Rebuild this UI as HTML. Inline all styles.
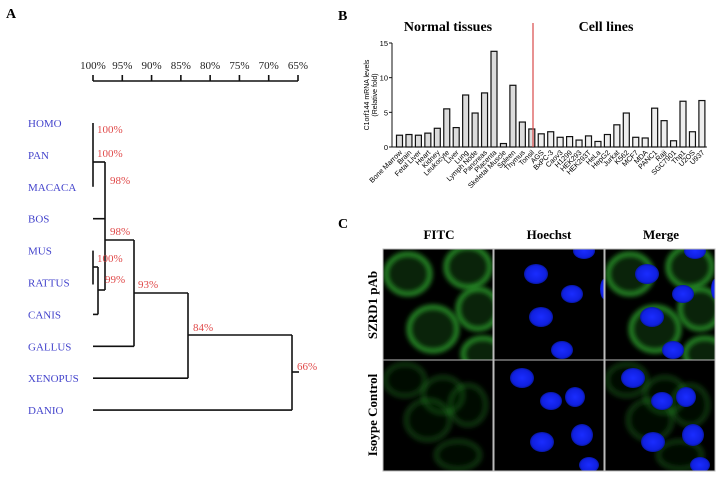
<!DOCTYPE html>
<html><head><meta charset="utf-8"><style>
html,body{margin:0;padding:0;background:#fff;}
svg{display:block;}
</style></head><body>
<svg width="723" height="479" viewBox="0 0 723 479" xmlns="http://www.w3.org/2000/svg">
<defs>
<radialGradient id="nuc" cx="50%" cy="50%" r="50%"><stop offset="0" stop-color="#1a2cff"/><stop offset="0.8" stop-color="#1020e0"/><stop offset="1" stop-color="#0818a0"/></radialGradient>
<filter id="blur" x="-20%" y="-20%" width="140%" height="140%"><feGaussianBlur stdDeviation="2.5"/></filter>
<clipPath id="c1"><rect x="0" y="0" width="110" height="111"/></clipPath>
</defs>

<!-- Panel A -->
<text x="6" y="18" font-family="Liberation Serif, serif" font-weight="bold" font-size="14">A</text>
<g id="scale" font-family="Liberation Serif, serif" font-size="11" fill="#222"></g>
<g id="dendro" stroke="#111" stroke-width="1.6" fill="none"></g>
<g id="leaves" font-family="Liberation Serif, serif" font-size="11" fill="#4444cc"></g>
<g id="nodes" font-family="Liberation Serif, serif" font-size="11" fill="#e04a4a"></g>

<!-- Panel B -->
<text x="338" y="20" font-family="Liberation Serif, serif" font-weight="bold" font-size="14">B</text>
<text x="448" y="31" text-anchor="middle" font-family="Liberation Serif, serif" font-weight="bold" font-size="14">Normal tissues</text>
<text x="606" y="31" text-anchor="middle" font-family="Liberation Serif, serif" font-weight="bold" font-size="14">Cell lines</text>
<g id="bars"></g>
<text transform="translate(369,95) rotate(-90)" text-anchor="middle" font-family="Liberation Sans, sans-serif" font-size="7">C1orf144 mRNA levels</text>
<text transform="translate(377,95) rotate(-90)" text-anchor="middle" font-family="Liberation Sans, sans-serif" font-size="7">(Relative fold)</text>
<line x1="533" y1="23" x2="533" y2="147" stroke="#d84a4a" stroke-width="1.2"/>

<!-- Panel C -->
<text x="338" y="228" font-family="Liberation Serif, serif" font-weight="bold" font-size="14">C</text>
<g font-family="Liberation Serif, serif" font-weight="bold" font-size="13" text-anchor="middle">
<text x="439" y="239">FITC</text>
<text x="549" y="239">Hoechst</text>
<text x="661" y="239">Merge</text>
<text transform="translate(377,305) rotate(-90)">SZRD1 pAb</text>
<text transform="translate(377,415) rotate(-90)">Isoype Control</text>
</g>
<g id="micro"></g>
</svg>
<script>
// ---- Panel A data ----
const scaleTicks = ["100%","95%","90%","85%","80%","75%","70%","65%"];
const species = ["HOMO","PAN","MACACA","BOS","MUS","RATTUS","CANIS","GALLUS","XENOPUS","DANIO"];
const nodeLabels = ["100%","100%","98%","98%","100%","99%","93%","84%","66%"];

// ---- Panel B data ----
const categories = ["Bone Marrow","Brain","Fetal Liver","Heart","Kidney","Leukocyte","Liver","Lung","Lymph Node","Pancreas","Placenta","Skeletal Muscle","Spleen","Thymus","Tonsil","AGS","BxPC-3","Caov3","H1299","HEK293","HEK293T","HeLa","HepG2","Jurkat","K562","MCF7","MDA","PANC1","Raji","SGC7901","Thp1","U2OS","U937"];
const values = [1.7,1.8,1.7,2.0,2.7,5.5,2.8,7.5,4.9,7.8,13.8,0.5,8.9,3.6,2.6,1.9,2.2,1.4,1.5,1.0,1.6,0.8,1.8,3.2,4.9,1.4,1.3,5.6,3.8,0.9,6.6,2.2,6.7];
const yTicks = [0,5,10,15];
const normalCount = 15;

const NS="http://www.w3.org/2000/svg";
function mk(tag, attrs, parent){const e=document.createElementNS(NS,tag);for(const k in attrs)e.setAttribute(k,attrs[k]);parent.appendChild(e);return e;}

// scale
const sc=document.getElementById('scale');
const pctX=p=>93+(100-p)*(205/35);
mk('line',{x1:93,y1:81,x2:298,y2:81,stroke:'#111','stroke-width':1.6},sc);
scaleTicks.forEach((t,i)=>{
  const x=pctX(parseFloat(t));
  const l=mk('line',{x1:x,y1:75,x2:x,y2:81,stroke:'#111','stroke-width':1.6},sc);
  
  
  const tx=mk('text',{x:x,y:69,'text-anchor':'middle'},sc);tx.textContent=t;
  
  
});
// leaves
const lv=document.getElementById('leaves');
const leafY=i=>123+i*31.9;
species.forEach((s,i)=>{const t=mk('text',{x:28,y:leafY(i)+4},lv);t.textContent=s;
  
  });
// dendrogram
const d=document.getElementById('dendro');
const segs=[
 [93,leafY(0),93,leafY(2)],[93,162,105,162],[105,162,105,290],[93,leafY(3),105,leafY(3)],
 [93,leafY(4),93,leafY(5)+2],[93,267,98,267],[98,267,98,leafY(6)],[93,leafY(6),98,leafY(6)],[98,290,105,290],
 [105,240,134,240],[134,240,134,leafY(7)],[93,leafY(7),134,leafY(7)],
 [134,293,188,293],[188,293,188,leafY(8)],[93,leafY(8),188,leafY(8)],
 [188,335,292,335],[292,335,292,leafY(9)],[93,leafY(9),292,leafY(9)],[292,372,299,372]];
segs.forEach(s=>mk('line',{x1:s[0],y1:s[1],x2:s[2],y2:s[3]},d));
const nodePos=[[97,133],[97,157],[110,184],[110,235],[97,262],[105,283],[138,288],[193,331],[297,370]];
const nl=document.getElementById('nodes');
nodeLabels.forEach((t,i)=>{const e=mk('text',{x:nodePos[i][0],y:nodePos[i][1]},nl);e.textContent=t;
  
  });

// bar chart
const bg=document.getElementById('bars');
const y0=147,yTop=43,x0=392;
const yS=v=>y0-(v/15)*(y0-yTop);
const step=9.45, bw=6;
const xS=i=>396.5+i*step;
mk('line',{x1:x0,y1:yTop,x2:x0,y2:y0,stroke:'#111','stroke-width':1},bg);
mk('line',{x1:x0,y1:y0,x2:xS(categories.length-1)+bw+2,y2:y0,stroke:'#111','stroke-width':1},bg);
yTicks.forEach(t=>{
  mk('line',{x1:x0-3,y1:yS(t),x2:x0,y2:yS(t),stroke:'#111'},bg);
  const e=mk('text',{x:x0-4,y:yS(t)+3,'text-anchor':'end','font-family':'Liberation Sans, sans-serif','font-size':7.5},bg);e.textContent=t;
  
  
});
categories.forEach((c,i)=>{
  const x=xS(i);
  const r=mk('rect',{x:x,y:yS(values[i]),width:bw,height:y0-yS(values[i]),fill:i<normalCount?'#dcdcdc':'#eeeeee',stroke:'#111','stroke-width':1.2},bg);
  
  
  const t=mk('text',{transform:`translate(${x+bw/2+3},${y0+6}) rotate(-45)`,'text-anchor':'end','font-family':'Liberation Sans, sans-serif','font-size':7.2},bg);
  t.textContent=c;
  
  
});

// microscopy
const mg=document.getElementById('micro');
const cols=[383,494,605], rows=[249,360];
const cells=[[25,25,22,20],[85,18,22,20],[95,60,20,20],[50,80,24,22],[100,105,20,16]];
const nucs=[[42,25,12,10],[78,45,11,9],[47,68,12,10],[68,101,11,9],[90,2,11,8],[110,40,4,10]];
const cells2=[[22,20,20,16],[60,35,20,18],[45,60,22,20],[85,45,18,20],[75,95,22,14]];
const nucs2=[[28,18,12,10],[57,41,11,9],[81,37,10,10],[48,82,12,10],[88,75,11,11],[95,105,10,8]];
for(let r=0;r<2;r++)for(let c=0;c<3;c++){
  const g=mk('g',{transform:`translate(${cols[c]},${rows[r]})`},mg);
  
  
  const inner=mk('g',{'clip-path':'url(#c1)'},g);
  mk('rect',{x:0,y:0,width:110,height:111,fill:'#000'},inner);
  const cl=r===0?cells:cells2, nu=r===0?nucs:nucs2;
  if(c!==1){
    const op=r===0?0.85:0.3;
    cl.forEach(e=>{
      mk('ellipse',{cx:e[0],cy:e[1],rx:e[2],ry:e[3],fill:'#145a14','fill-opacity':0.45*op,stroke:'#2a9a2a','stroke-width':5,'stroke-opacity':op,filter:'url(#blur)'},inner);
    });
  }
  if(c!==0){
    nu.forEach(e=>mk('ellipse',{cx:e[0],cy:e[1],rx:e[2],ry:e[3],fill:'url(#nuc)'},inner));
  }
  mk('rect',{x:0,y:0,width:110,height:111,fill:'none',stroke:'#bbb','stroke-width':1},g);
}
</script>
</body></html>
